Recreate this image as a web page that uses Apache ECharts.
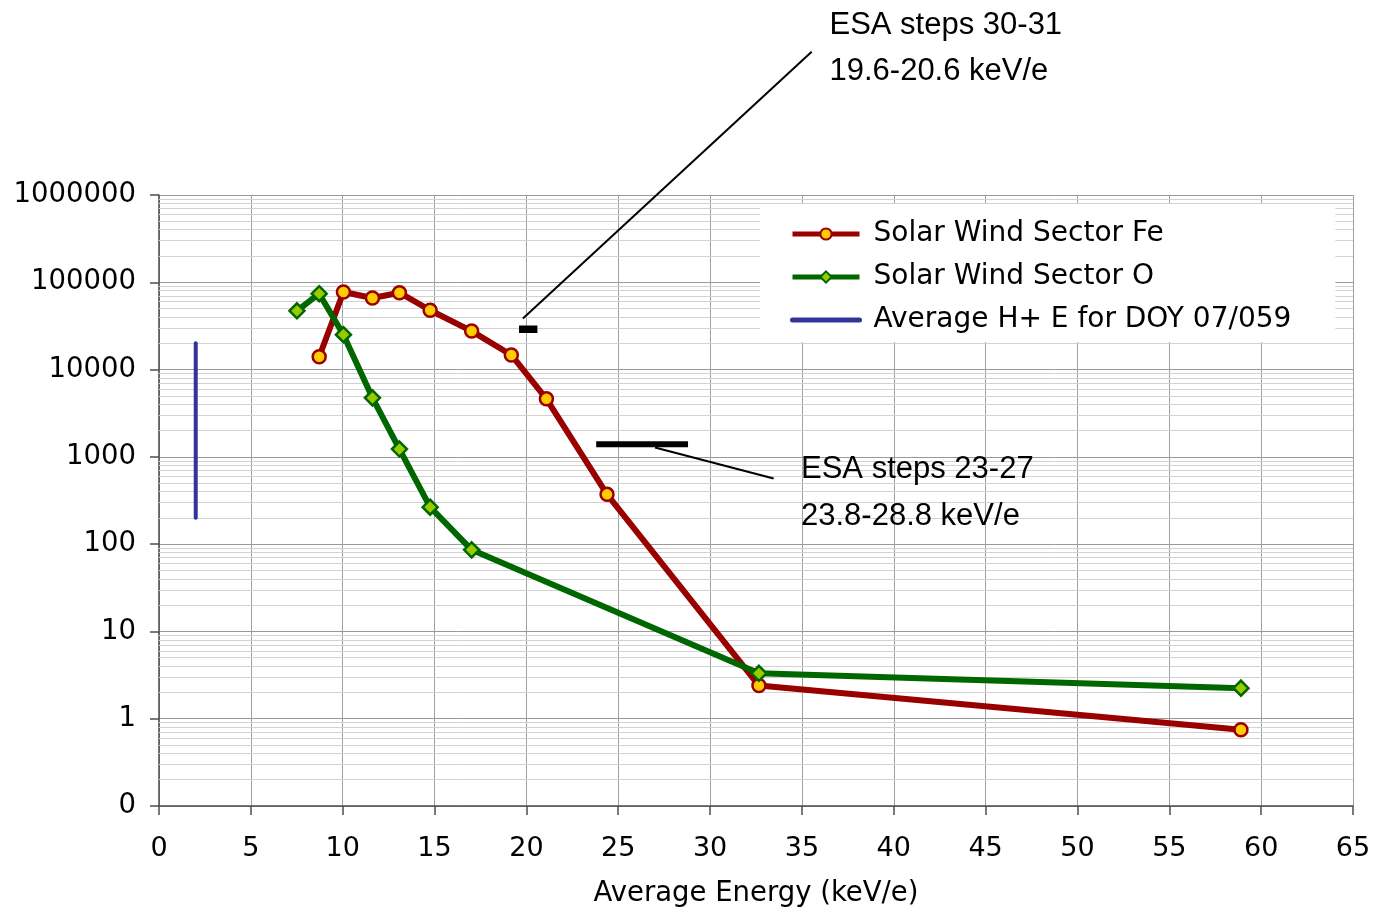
<!DOCTYPE html>
<html>
<head>
<meta charset="utf-8">
<script src="https://cdn.jsdelivr.net/npm/echarts@6/dist/echarts.min.js"></script>
<style>
  html, body { margin: 0; padding: 0; background: #fff; }
  #chart { width: 1386px; height: 913px; }
</style>
</head>
<body>
<div id="chart"></div>
<script>
// Average energy (keV/e) and counts for each solar wind sector species
const feEnergy = [8.72, 10.04, 11.62, 13.09, 14.76, 17.02, 19.18, 21.09, 24.39, 32.66, 58.9];
const feCounts = [14000, 77400, 66100, 76000, 47800, 27600, 14700, 4620, 372, 2.4, 0.746];

const oEnergy = [7.51, 8.72, 10.04, 11.62, 13.09, 14.76, 17.02, 32.66, 58.9];
const oCounts = [47100, 74000, 25100, 4740, 1227, 265, 86, 3.31, 2.24];

// Average H+ energy for DOY 07/059, spanning the count range
const hEnergy = [2, 2];
const hCounts = [200, 20000];

// ESA step energy ranges (keV/e) and the level they are drawn at
const esaNames = ['ESA steps 30-31', 'ESA steps 23-27'];
const esaRanges = [[19.6, 20.6], [23.8, 28.8]];
const esaLevels = [28900, 1390];
const esaRangeText = ['19.6-20.6 keV/e', '23.8-28.8 keV/e'];

// Axis ticks
const yTickValues = [0.1, 1, 10, 100, 1000, 10000, 100000, 1000000];
const yTickLabels = ['0', '1', '10', '100', '1000', '10000', '100000', '1000000'];

const seriesNames = ['Solar Wind Sector Fe', 'Solar Wind Sector O', 'Average H+ E for DOY 07/059'];

// Annotation anchors in data space: leader start, leader end, text top-left
const noteLayout = [
  { from: [19.81, 38500], to: [35.53, 4.38e7], text: [36.5, 1.6e8], lineH: 46, width: 2 },
  { from: [27.0, 1283], to: [33.46, 565], text: [34.95, 1325], lineH: 47, width: 2 }
];

const pairs = (xs, ys) => xs.map((x, i) => [x, ys[i]]);

// Log-style minor grid: 2..9 within every decade
const minorGrid = [];
for (let d = -1; d < 6; d++) {
  for (let k = 2; k <= 9; k++) minorGrid.push({ yAxis: k * Math.pow(10, d) });
}

const chart = echarts.init(document.getElementById('chart'));
const font = 'DejaVu Sans';

const FE_RED = '#990000';
const O_GREEN = '#006600';
const H_BLUE = '#333399';

const option = {
  animation: false,
  backgroundColor: '#ffffff',
  grid: { left: 159, top: 195, width: 1194, height: 615, containLabel: false },
  legend: {
    data: [
      { name: seriesNames[0], lineStyle: { color: FE_RED, width: 5 },
        itemStyle: { color: '#FFCC00', borderColor: FE_RED, borderWidth: 2 } },
      { name: seriesNames[1], lineStyle: { color: O_GREEN, width: 5 },
        itemStyle: { color: '#99CC00', borderColor: O_GREEN, borderWidth: 2 } },
      { name: seriesNames[2], lineStyle: { color: H_BLUE, width: 5 },
        itemStyle: { opacity: 0 } }
    ],
    orient: 'vertical',
    left: 760,
    top: 204,
    z: 20,
    backgroundColor: '#ffffff',
    padding: [15, 44, 7, 30],
    itemGap: 13,
    itemWidth: 67,
    itemHeight: 14,
    textStyle: { fontFamily: font, fontSize: 28, color: '#000', lineHeight: 30, padding: [0, 0, 0, 9] },
    selectedMode: false
  },
  xAxis: {
    type: 'value',
    min: 0,
    max: 65,
    interval: 5,
    name: 'Average Energy (keV/e)',
    nameLocation: 'middle',
    nameGap: 74,
    nameTextStyle: { fontFamily: font, fontSize: 27.5, color: '#000' },
    axisLine: { onZero: false, lineStyle: { color: '#4d4d4d', width: 1.5 } },
    axisTick: { show: true, length: 9, lineStyle: { color: '#4d4d4d', width: 1.5 } },
    axisLabel: { fontFamily: font, fontSize: 27, color: '#000', margin: 29 },
    splitLine: { show: true, lineStyle: { color: '#a0a0a0', width: 1 } }
  },
  yAxis: {
    type: 'log',
    logBase: 10,
    min: 0.1,
    max: 1000000,
    splitNumber: 7,
    axisLine: { show: true, lineStyle: { color: '#4d4d4d', width: 1.5 } },
    axisTick: { show: true, length: 9, lineStyle: { color: '#4d4d4d', width: 1.5 } },
    axisLabel: {
      fontFamily: font, fontSize: 27.5, color: '#000', margin: 23,
      formatter: function (v) {
        const i = yTickValues.findIndex(t => Math.abs(Math.log10(t) - Math.log10(v)) < 1e-6);
        return i >= 0 ? yTickLabels[i] : '';
      }
    },
    splitLine: { show: true, lineStyle: { color: '#999', width: 1 } }
  },
  series: [
    {
      name: 'minor grid',
      type: 'line',
      data: [],
      z: 1,
      silent: true,
      markLine: {
        z: 1,
        silent: true,
        symbol: ['none', 'none'],
        label: { show: false },
        lineStyle: { color: '#d2d2d2', width: 1, type: 'solid' },
        emphasis: { disabled: true },
        data: minorGrid
      }
    },
    {
      name: seriesNames[0],
      type: 'line',
      data: pairs(feEnergy, feCounts),
      z: 3,
      symbol: 'circle',
      symbolSize: 13,
      lineStyle: { color: FE_RED, width: 6 },
      itemStyle: { color: '#FFCC00', borderColor: FE_RED, borderWidth: 2.5 }
    },
    {
      name: seriesNames[1],
      type: 'line',
      data: pairs(oEnergy, oCounts),
      z: 4,
      symbol: 'diamond',
      symbolSize: 15,
      lineStyle: { color: O_GREEN, width: 6 },
      itemStyle: { color: '#99CC00', borderColor: O_GREEN, borderWidth: 2.5 }
    },
    {
      name: seriesNames[2],
      type: 'line',
      data: pairs(hEnergy, hCounts),
      z: 3,
      symbol: 'none',
      lineStyle: { color: H_BLUE, width: 4, cap: 'round' },
      itemStyle: { color: H_BLUE }
    },
    {
      name: esaNames[0],
      type: 'line',
      data: esaRanges[0].map(x => [x, esaLevels[0]]),
      z: 3,
      symbol: 'none',
      lineStyle: { color: '#000', width: 7.5 }
    },
    {
      name: esaNames[1],
      type: 'line',
      data: esaRanges[1].map(x => [x, esaLevels[1]]),
      z: 3,
      symbol: 'none',
      lineStyle: { color: '#000', width: 6 }
    }
  ]
};

chart.setOption(option);

// Leader lines and the ESA step notes, placed through the axes
const graphics = [];
noteLayout.forEach((n, i) => {
  const a = chart.convertToPixel({ gridIndex: 0 }, n.from);
  const b = chart.convertToPixel({ gridIndex: 0 }, n.to);
  const t = chart.convertToPixel({ gridIndex: 0 }, n.text);
  graphics.push({
    type: 'line',
    z: 10,
    shape: { x1: a[0], y1: a[1], x2: b[0], y2: b[1] },
    style: { stroke: '#000', lineWidth: n.width }
  });
  graphics.push({
    type: 'text',
    z: 10,
    x: t[0],
    y: t[1],
    style: {
      text: esaNames[i] + '\n' + esaRangeText[i],
      font: '31px "Liberation Sans", Arial, sans-serif',
      fill: '#000',
      lineHeight: n.lineH,
      align: 'left',
      verticalAlign: 'top'
    }
  });
});
chart.setOption({ graphic: graphics });
</script>
</body>
</html>
